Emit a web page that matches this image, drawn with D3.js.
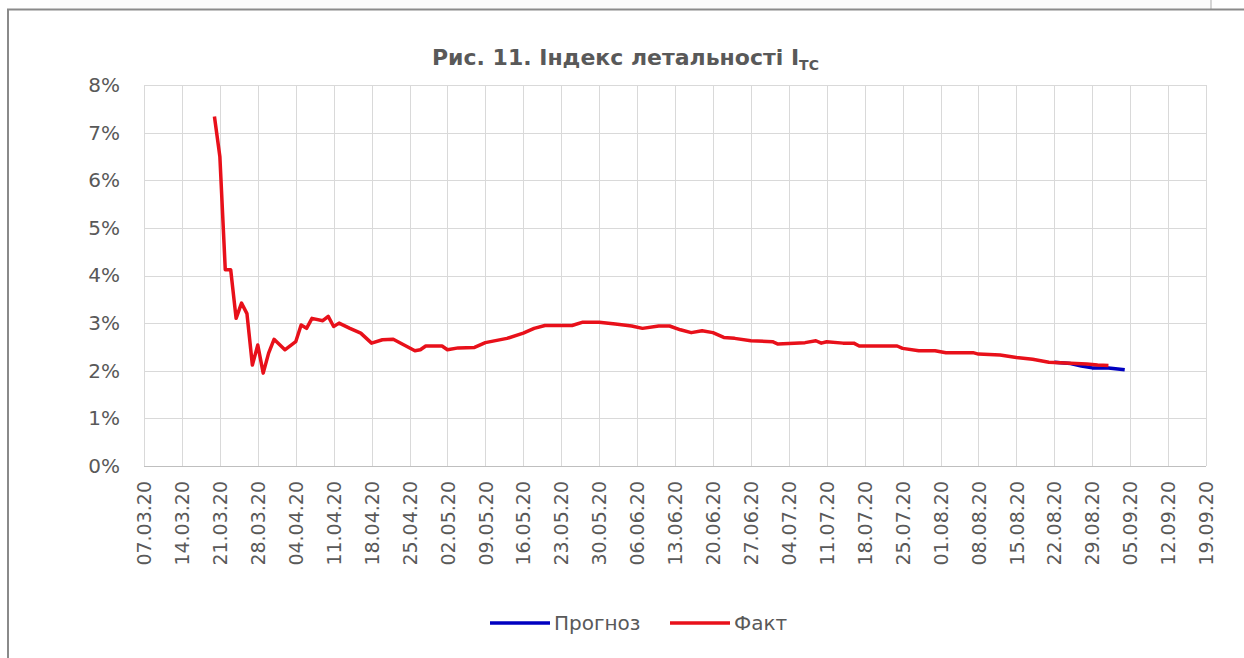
<!DOCTYPE html>
<html>
<head>
<meta charset="utf-8">
<script src="https://cdnjs.cloudflare.com/ajax/libs/d3/7.8.5/d3.min.js"></script>
<style>
body { margin: 0; background: #fff; }
text { font-family: "DejaVu Sans", sans-serif; fill: #595959; }
.title { font-weight: bold; font-size: 22px; }
.yaxis .tick text { font-size: 20px; }
.xaxis .tick text { font-size: 19px; }
.legend { font-size: 20px; }
</style>
</head>
<body>
<div id="chart"></div>
<script>

let width = 1244;
let height = 658;

// tick labels of the date axis, one each week
let tickLabels = ["07.03.20","14.03.20","21.03.20","28.03.20","04.04.20","11.04.20","18.04.20","25.04.20",
"02.05.20","09.05.20","16.05.20","23.05.20","30.05.20","06.06.20","13.06.20","20.06.20","27.06.20",
"04.07.20","11.07.20","18.07.20","25.07.20","01.08.20","08.08.20","15.08.20","22.08.20","29.08.20",
"05.09.20","12.09.20","19.09.20"];
let yTicks = [0,0.01,0.02,0.03,0.04,0.05,0.06,0.07,0.08];

// Факт
let factDates = ["20.03.20","21.03.20","22.03.20","23.03.20","24.03.20","25.03.20","26.03.20","27.03.20",
"28.03.20","29.03.20","30.03.20","31.03.20","02.04.20","04.04.20","05.04.20","06.04.20","07.04.20",
"09.04.20","10.04.20","11.04.20","12.04.20","14.04.20","16.04.20","18.04.20","20.04.20","22.04.20",
"24.04.20","26.04.20","27.04.20","28.04.20","01.05.20","02.05.20","04.05.20","07.05.20","09.05.20",
"13.05.20","16.05.20","18.05.20","20.05.20","25.05.20","27.05.20","30.05.20","02.06.20","05.06.20",
"07.06.20","10.06.20","12.06.20","14.06.20","16.06.20","18.06.20","20.06.20","22.06.20","24.06.20",
"27.06.20","01.07.20","02.07.20","05.07.20","07.07.20","09.07.20","10.07.20","11.07.20","14.07.20",
"16.07.20","17.07.20","24.07.20","25.07.20","28.07.20","31.07.20","02.08.20","07.08.20","08.08.20",
"12.08.20","15.08.20","18.08.20","21.08.20","25.08.20","28.08.20","30.08.20","01.09.20"];
let factValues = [7.34,6.5,4.12,4.12,3.1,3.42,3.2,2.12,
2.54,1.95,2.37,2.66,2.44,2.61,2.96,2.89,3.1,
3.05,3.14,2.93,3.0,2.89,2.79,2.58,2.65,2.66,
2.54,2.42,2.44,2.52,2.52,2.44,2.48,2.49,2.59,
2.68,2.79,2.89,2.95,2.95,3.02,3.02,2.98,2.94,
2.89,2.94,2.94,2.86,2.80,2.84,2.80,2.70,2.68,
2.63,2.61,2.56,2.58,2.59,2.63,2.58,2.61,2.58,
2.58,2.52,2.52,2.47,2.42,2.42,2.38,2.38,2.35,
2.33,2.28,2.24,2.18,2.16,2.14,2.12,2.11];

// Прогноз
let forecastDates = ["22.08.20","25.08.20","27.08.20","29.08.20","01.09.20","04.09.20"];
let forecastValues = [2.18,2.15,2.10,2.06,2.06,2.02];

let parseDate = d3.utcParse("%d.%m.%y");

function toPoints(dates, values){
    return dates.map(function(d,i){
        return {date: parseDate(d), value: values[i]/100};
    });
}

let fact = toPoints(factDates, factValues);
let forecast = toPoints(forecastDates, forecastValues);
let tickDates = tickLabels.map(parseDate);

let svg = d3.select("#chart")
.append("svg")
.attr("width", width)
.attr("height", height);

// frame of the chart box
svg.append("rect")
.attr("x", 50).attr("y", 0).attr("width", 1161).attr("height", 9)
.attr("fill", "#fafafa");
svg.append("line")
.attr("x1", 1211).attr("x2", 1211).attr("y1", 0).attr("y2", 9)
.attr("stroke", "#c8c8c8").attr("stroke-width", 1.5);
svg.append("path")
.attr("d", "M8,658 V9.5 H1244")
.attr("fill", "none")
.attr("stroke", "#8a8a8a")
.attr("stroke-width", 2);

let xscale = d3.scaleUtc()
.domain([tickDates[0], tickDates[tickDates.length-1]])
.range([144, 1206]);

let yscale = d3.scaleLinear()
.domain([0, 0.08])
.range([466, 85]);

// gridlines
svg.append("g")
.selectAll("line")
.data(tickDates)
.enter()
.append("line")
.attr("x1", function(d){ return Math.round(xscale(d))+0.5; })
.attr("x2", function(d){ return Math.round(xscale(d))+0.5; })
.attr("y1", yscale(0.08))
.attr("y2", yscale(0))
.attr("stroke", "#d9d9d9");

svg.append("g")
.selectAll("line")
.data(yTicks)
.enter()
.append("line")
.attr("x1", xscale.range()[0])
.attr("x2", xscale.range()[1])
.attr("y1", function(d){ return Math.round(yscale(d))+0.5; })
.attr("y2", function(d){ return Math.round(yscale(d))+0.5; })
.attr("stroke", function(d){ return d===0 ? "#bfbfbf" : "#d9d9d9"; });

// axes
let yAxis = d3.axisLeft(yscale)
.tickValues(yTicks)
.tickFormat(d3.format(".0%"))
.tickSize(0)
.tickPadding(24);

svg.append("g")
.attr("class", "yaxis")
.attr("transform", "translate(144,0)")
.call(yAxis)
.call(function(g){ g.select(".domain").remove(); });

let xAxis = d3.axisBottom(xscale)
.tickValues(tickDates)
.tickFormat(function(d,i){ return tickLabels[i]; })
.tickSize(0);

svg.append("g")
.attr("class", "xaxis")
.attr("transform", "translate(0,466)")
.call(xAxis)
.call(function(g){ g.select(".domain").remove(); })
.selectAll(".tick text")
.attr("transform", "rotate(-90)")
.attr("text-anchor", "end")
.attr("x", -15)
.attr("y", 0)
.attr("dy", "0.35em");

// series lines
let line = d3.line()
.x(function(d){ return xscale(d.date); })
.y(function(d){ return yscale(d.value); });

svg.append("path")
.datum(forecast)
.attr("d", line)
.attr("fill", "none")
.attr("stroke", "#0000c0")
.attr("stroke-width", 3.5)
.attr("stroke-linejoin", "round");

svg.append("path")
.datum(fact)
.attr("d", line)
.attr("fill", "none")
.attr("stroke", "#e8101a")
.attr("stroke-width", 3.5)
.attr("stroke-linejoin", "round");

// title
let title = svg.append("text")
.attr("class", "title")
.attr("x", 432)
.attr("y", 65);
title.append("tspan").text("Рис. 11. Індекс летальності I");
title.append("tspan").text("TC").attr("font-size", "14px").attr("dy", 5);

// legend
let legendItems = [
    {name: "Прогноз", color: "#0000c0", x: 490},
    {name: "Факт", color: "#e8101a", x: 670}
];

let legend = svg.selectAll(".legendItem")
.data(legendItems)
.enter()
.append("g")
.attr("class", "legendItem")
.attr("transform", function(d){ return "translate(" + d.x + ",623)"; });

legend.append("line")
.attr("x1", 0).attr("x2", 60)
.attr("stroke", function(d){ return d.color; })
.attr("stroke-width", 3.5);

legend.append("text")
.attr("class", "legend")
.attr("x", 64)
.attr("dy", "0.35em")
.text(function(d){ return d.name; });

</script>
</body>
</html>
